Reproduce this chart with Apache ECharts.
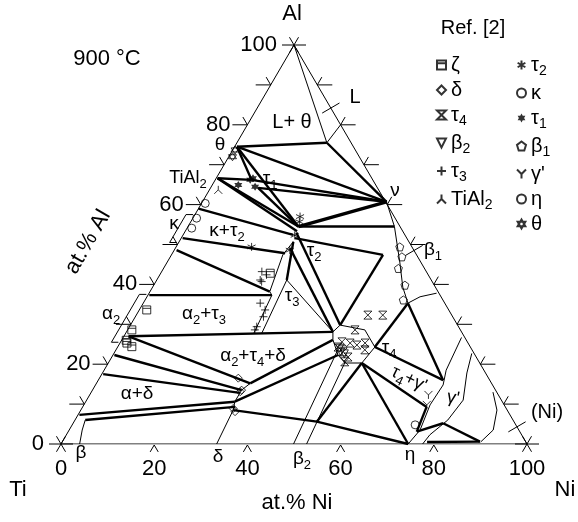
<!DOCTYPE html>
<html>
<head>
<meta charset="utf-8">
<script src="https://cdn.jsdelivr.net/npm/echarts@6/dist/echarts.min.js"></script>
<style>
  html, body { margin: 0; padding: 0; background: #fff; }
  #chart { width: 578px; height: 522px; }
</style>
</head>
<body>
<div id="chart"></div>
<script>
(function() {
  var FONT = '"Liberation Sans", Arial, sans-serif';
  var ink = '#000';

  // --- axis ticks (at.%) ---
  var leftTicks = [10, 20, 30, 40, 50, 60, 70, 80, 90];     // Al on Ti-Al edge
  var rightTicks = [10, 20, 30, 40, 50, 60, 70, 80, 90];    // Al on Al-Ni edge
  var bottomTicks = [20, 40, 60, 80];                        // Ni on Ti-Ni edge
  var alLabels = [0, 20, 40, 60, 80, 100];
  var niLabels = [0, 20, 40, 60, 80, 100];
  var leaderAl = [84.2, 48.5, 4.3];                          // label leaders on Al-Ni edge
  var bracketAl = [[25.5, 37.5], [50.5, 57.5]];              // alpha2 / kappa brackets on Ti-Al edge

  // --- compositions [at.% Ni, at.% Al] ---
  var corners = [[0, 0], [100, 0], [0, 100]];
  var edges = [[[0, 0], [100, 0], [0, 100], [0, 0]]];

  var heavyTies = [
    [[0.5, 74.5], [19.3, 75.5]],
    [[0.5, 74.5], [39.5, 60.7]],
    [[19.3, 75.5], [39.5, 60.7]],
    [[0.5, 74.5], [7.8, 66.2]],
    [[0.5, 74.5], [23.7, 54.5]],
    [[0.3, 66.6], [7.8, 66.2]],
    [[0.3, 66.6], [23.7, 54.5]],
    [[0.3, 66.6], [24, 53.3]],
    [[10.2, 64.2], [23.7, 54.5]],
    [[10.2, 64.2], [39.5, 60.7]],
    [[7.8, 66.2], [39.5, 60.7]],
    [[23.7, 54.5], [44.3, 54.5]],
    [[24.4, 51.6], [45.4, 47.4]],
    [[0, 59], [23.6, 52.4]],
    [[0.3, 51.6], [24.2, 47.8]],
    [[0.5, 48.6], [25.7, 38.2]],
    [[0.3, 37.3], [26.6, 37.3]],
    [[1, 27], [44.3, 28.1]],
    [[1, 27], [33, 15.2]],
    [[0.3, 22.3], [32, 13.5]],
    [[0.3, 17.5], [32, 12.8]],
    [[0.3, 7.3], [32, 10.6]],
    [[2.2, 6], [32.7, 9.3]],
    [[33, 15.2], [45.3, 26.1]],
    [[32, 10.6], [48.3, 22.3]],
    [[32.7, 8.5], [52.1, 5.6], [74.5, 0]],
    [[52.1, 5.6], [54.4, 20.3]],
    [[24.6, 49.1], [44.3, 28.1]],
    [[24, 53], [45, 29.8]],
    [[24.5, 50.7], [27.9, 41.1]],
    [[45.4, 47.4], [45, 29.8]],
    [[56.8, 35.3], [55.2, 24.3]],
    [[55.2, 24.3], [74, 16]],
    [[56.8, 35.3], [74, 16]],
    [[54.4, 20.3], [73.8, 9.3]],
    [[54.4, 20.3], [74.5, 0]],
    [[73.8, 9.3], [74.8, 3.1]],
    [[74.8, 3.1], [79.4, 5.2]],
    [[79.4, 5.2], [89.6, 0.6]],
    [[78.3, 0.5], [89.6, 0.6]]
  ];
  var thickTies = [
    [[23.7, 54.5], [39.5, 60.7]]
  ];

  var boundaries = [
    [[0, 100], [19.3, 75.5], [20, 80]],
    [[39.5, 60.7], [44.3, 54.5], [49.9, 45.6], [53.7, 39.3], [56.8, 35.3]],
    [[56.8, 35.3], [58.6, 36.9], [61.7, 37.8]],
    [[72.6, 26.7], [73.4, 18.5], [74.6, 14.8], [74.3, 9.8], [75.3, 3.5], [74.5, 0]],
    [[76.8, 22.7], [78.2, 17.8], [80.8, 11], [80, 6], [78, 2.3], [77.6, 0]],
    [[86.2, 13], [89.3, 8.5], [91, 3.5], [89.8, 0.5]],
    [[24.5, 50.7], [23.9, 47.4], [25.7, 38.2], [26.6, 37.3], [27.5, 27.8]],
    [[27.9, 41.1], [29.2, 27.8]],
    [[27.9, 41.1], [44.3, 28.1]],
    [[44.3, 28.1], [45, 29.8], [50.9, 28.6], [55.2, 24.3], [54.4, 20.3], [50.8, 20.3],
     [48.3, 22.3], [45.3, 26.1], [44.3, 28.1]],
    [[33.4, 0], [32.7, 8.5], [32, 10.6], [32, 13.5], [33, 15.2]],
    [[49.9, 0], [47.6, 23.6]],
    [[52.7, 0], [50.7, 20.6]],
    [[2.2, 6], [2.8, 3.5], [4, 0]]
  ];

  // --- Ref. [2] data points ---
  var zetaPts = [[1.6, 33.6], [0.9, 28.6], [1, 26], [3, 24.4], [1.5, 25.3], [23.5, 42.8]];
  var deltaPts = [[29.8, 16.5], [32, 13.5], [31.9, 13.1], [32.5, 8.9], [33.3, 8.1]];
  var tau4Pts = [[49.7, 32.3], [52.9, 32.3], [48.8, 28.6], [47.5, 25.6], [49.4, 25.3], [51.1, 24.8],
                 [52.6, 25.3], [47.3, 24.3], [49, 23.1], [50.7, 21.8], [50.6, 20.6], [53.4, 23.6]];
  var beta2Pts = [[47.8, 24], [48.5, 23], [49.5, 22.6]];
  var tau3Pts = [[21.5, 43.2], [22.2, 41.1], [22.7, 40.7], [22.9, 42.4], [25.1, 35.3], [27, 33.6],
                 [27.5, 31.9], [27.3, 29.4], [27.3, 28.6]];
  var tial2Pts = [[1.9, 63.7]];
  var tau2Pts = [[22.8, 57], [23.3, 55.7], [16.2, 49.4], [24.8, 48.6], [24, 52.3]];
  var kappaPts = [[0.8, 60.3], [0.8, 56.6], [1, 54.1]];
  var tau1Pts = [[7.5, 66.2], [9.4, 64.5], [5.6, 64.9], [7.9, 66.6]];
  var beta1Pts = [[48, 49.4], [49.7, 46.9], [50.4, 44], [53.9, 39.8], [55.4, 36.1]];
  var gammaPts = [[72.7, 12.3], [73.6, 9.8]];
  var etaPts = [[73.6, 4.8]];
  var thetaPts = [[0.5, 73.7], [0.8, 72]];

  // ternary -> cartesian (x = Ni + Al/2, y = Al)
  function tern(p) { return [p[0] + p[1] / 2, p[1]]; }

  function sub(str) {
    // "τ_4+γ'" -> rich text with subscripts
    return str.split(/(_\d)/).map(function(t) {
      if (!t) return '';
      if (t.charAt(0) === '_') return '{s|' + t.slice(1) + '}';
      return '{n|' + t + '}';
    }).join('');
  }
  function richFor(size) {
    return {
      n: { fontSize: size, fontFamily: FONT, lineHeight: 22 },
      s: { fontSize: Math.round(size * 0.7), fontFamily: FONT, verticalAlign: 'bottom', lineHeight: 26 }
    };
  }

  var symbols = {
    zeta: 'path://M0,0L10,0L10,10L0,10Z M0,3L10,3',
    delta: 'path://M5,0L10,5L5,10L0,5Z',
    tau4: 'path://M0,0L10,0L0,10L10,10Z',
    beta2: 'path://M0,0L10,0L5,10Z',
    tau3: 'path://M5,0L5,10M0,5L10,5',
    tial2: 'path://M5,0L5,5L0,10M5,5L10,10',
    tau2: 'path://M5,0L5,10M0.7,2.5L9.3,7.5M0.7,7.5L9.3,2.5',
    tau1: 'path://M5,0L6.4,2.5L9.3,2.5L7.9,5L9.3,7.5L6.4,7.5L5,10L3.6,7.5L0.7,7.5L2.1,5L0.7,2.5L3.6,2.5Z',
    beta1: 'path://M5,0L10,3.8L8.1,10L1.9,10L0,3.8Z',
    gamma: 'path://M0,0L5,5L10,0M5,5L5,10',
    theta: 'path://M5,0L9.3,7.5L0.7,7.5Z M5,10L0.7,2.5L9.3,2.5Z'
  };

  function pointSeries(name, pts, symbol, filled) {
    return {
      name: name,
      type: 'scatter',
      data: pts.map(tern),
      symbol: symbol,
      symbolSize: 8,
      silent: true,
      z: 5,
      itemStyle: filled ? { color: ink } : { color: 'rgba(0,0,0,0)', borderColor: ink, borderWidth: 1 }
    };
  }

  function lineSeries(list, width, z) {
    return {
      type: 'lines',
      coordinateSystem: 'cartesian2d',
      polyline: true,
      silent: true,
      z: z,
      lineStyle: { color: ink, width: width, opacity: 1 },
      data: list.map(function(pts) { return { coords: pts.map(tern) }; })
    };
  }

  // axis decorations drawn through the grid's coordinate system
  var tickData = [];
  leftTicks.forEach(function(v) { tickData.push([0, v, 0]); });
  rightTicks.forEach(function(v) { tickData.push([1, v, 0]); });
  bottomTicks.forEach(function(v) { tickData.push([2, v, 0]); });
  corners.forEach(function(c, i) { tickData.push([3, i, 0]); });
  alLabels.forEach(function(v) { tickData.push([4, v, 0]); });
  niLabels.forEach(function(v) { tickData.push([5, v, 0]); });
  leaderAl.forEach(function(v) { tickData.push([6, v, 0]); });
  bracketAl.forEach(function(r) { tickData.push([7, r[0], r[1]]); });

  var cx = 0.504, cy = 0.864;
  function seg(x1, y1, x2, y2) {
    return { type: 'line', shape: { x1: x1, y1: y1, x2: x2, y2: y2 }, style: { stroke: ink, lineWidth: 1 } };
  }
  function renderTick(params, api) {
    var kind = api.value(0), v = api.value(1), p, q, ch = [];
    if (kind === 0) {
      p = api.coord(tern([0, v]));
      ch.push(seg(p[0] - 15, p[1], p[0], p[1]));
      ch.push(seg(p[0] - cx * 9, p[1] - cy * 9, p[0], p[1]));
    } else if (kind === 1) {
      p = api.coord(tern([100 - v, v]));
      ch.push(seg(p[0], p[1], p[0] + 15, p[1]));
      ch.push(seg(p[0], p[1], p[0] + cx * 9, p[1] - cy * 9));
    } else if (kind === 2) {
      p = api.coord(tern([v, 0]));
      ch.push(seg(p[0] - cx * 8, p[1] + 1 + cy * 8, p[0], p[1] + 1));
      ch.push(seg(p[0], p[1] + 1, p[0] + cx * 8, p[1] + 1 + cy * 8));
    } else if (kind === 3) {
      p = api.coord(tern(corners[v]));
      ch.push(seg(p[0] - cx * 9, p[1] + cy * 9, p[0] + cx * 9, p[1] - cy * 9));
      ch.push(seg(p[0] - cx * 9, p[1] - cy * 9, p[0] + cx * 9, p[1] + cy * 9));
      ch.push(seg(p[0] - 12, p[1], p[0] + 12, p[1]));
    } else if (kind === 4) {
      p = api.coord(tern([0, v]));
      ch.push({ type: 'text', style: { text: String(v), x: p[0] - 17, y: p[1], fill: ink,
        font: '22px ' + FONT, align: 'right', verticalAlign: 'middle' } });
    } else if (kind === 5) {
      p = api.coord(tern([v, 0]));
      ch.push({ type: 'text', style: { text: String(v), x: p[0], y: p[1] + 25, fill: ink,
        font: '22px ' + FONT, align: 'center', verticalAlign: 'middle' } });
    } else if (kind === 6) {
      p = api.coord(tern([100 - v, v]));
      ch.push(seg(p[0] - cy * 10, p[1] + cx * 10, p[0] + cy * 10, p[1] - cx * 10));
    } else if (kind === 7) {
      p = api.coord(tern([0, v]));
      q = api.coord(tern([0, api.value(2)]));
      ch.push(seg(p[0] - 9, p[1], q[0] - 9, q[1]));
      ch.push(seg(p[0] - 9, p[1], p[0] - 2, p[1]));
      ch.push(seg(q[0] - 9, q[1], q[0] - 2, q[1]));
    }
    return { type: 'group', children: ch };
  }

  // phase labels (pixel placement)
  var labels = [
    ['Al', 292, 14, 0, 22], ['Ti', 18, 490, 0, 22], ['Ni', 565, 490, 0, 22],
    ['900 °C', 107, 59, 0, 22], ['Ref. [2]', 473, 28, 0, 20], ['at.% Ni', 297, 503, 0, 22],
    ['at.% Al', 88, 242, Math.PI / 3, 22],
    ['L+ θ', 292, 122, 0, 20], ['θ', 220, 145, 0, 19], ['TiAl_2', 188, 178, 0, 18],
    ['τ_1', 270, 179, 0, 19], ['ν', 395, 191, 0, 19], ['L', 355, 97, 0, 20],
    ['β_1', 433, 250, 0, 19], ['κ', 174, 224, 0, 19], ['κ+τ_2', 227, 231, 0, 19],
    ['τ_2', 314, 251, 0, 19], ['τ_3', 292, 296, 0, 19], ['α_2', 111, 314, 0, 19],
    ['α_2+τ_3', 204, 314, 0, 19], ['α_2+τ_4+δ', 253, 356, 0, 19], ['α+δ', 137, 394, 0, 19],
    ['δ', 218, 457, 0, 19], ['β', 81, 453, 0, 19], ['β_2', 302, 459, 0, 19],
    ['η', 410, 455, 0, 19], ['τ_4', 389, 348, 0, 19], ["τ_4+γ'", 409, 379, -0.45, 18],
    ["γ'", 453, 398, -0.2, 18], ['(Ni)', 547, 412, 0, 20]
  ];

  var chart = echarts.init(document.getElementById('chart'), null, { renderer: 'canvas' });

  var legendNames1 = ['ζ', 'δ', 'τ_4', 'β_2', 'τ_3', 'TiAl_2'];
  var legendNames2 = ['τ_2', 'κ', 'τ_1', 'β_1', "γ'", 'η', 'θ'];
  function legendCfg(left, names) {
    return {
      orient: 'vertical', left: left, top: 50, itemWidth: 9, itemHeight: 9, itemGap: 5,
      selectedMode: false, data: names,
      formatter: function(name) { return sub(name); },
      textStyle: { color: ink, fontFamily: FONT, fontSize: 20, rich: richFor(20) }
    };
  }

  chart.setOption({
    animation: false,
    backgroundColor: '#fff',
    grid: { left: 61, top: 45, width: 466, height: 399 },
    xAxis: { type: 'value', min: 0, max: 100, show: false },
    yAxis: { type: 'value', min: 0, max: 100, show: false },
    legend: [legendCfg(431, legendNames1), legendCfg(511, legendNames2)],
    graphic: labels.map(function(l) {
      return {
        type: 'text', x: l[1], y: l[2], rotation: l[3], silent: true,
        style: { text: sub(l[0]), fill: ink, align: 'center', verticalAlign: 'middle',
          font: l[4] + 'px ' + FONT, rich: richFor(l[4]) }
      };
    }),
    series: [
      lineSeries(edges, 1, 2),
      lineSeries(boundaries, 1, 2),
      lineSeries(heavyTies, 2.4, 3),
      lineSeries(thickTies, 3.4, 3),
      {
        type: 'custom', renderItem: renderTick, data: tickData, silent: true, z: 4,
        encode: { x: -1, y: -1 }
      },
      pointSeries('ζ', zetaPts, symbols.zeta),
      pointSeries('δ', deltaPts, symbols.delta),
      pointSeries('τ_4', tau4Pts, symbols.tau4),
      pointSeries('β_2', beta2Pts, symbols.beta2),
      pointSeries('τ_3', tau3Pts, symbols.tau3),
      pointSeries('TiAl_2', tial2Pts, symbols.tial2),
      pointSeries('τ_2', tau2Pts, symbols.tau2),
      pointSeries('κ', kappaPts, 'circle'),
      pointSeries('τ_1', tau1Pts, symbols.tau1, true),
      pointSeries('β_1', beta1Pts, symbols.beta1),
      pointSeries("γ'", gammaPts, symbols.gamma),
      pointSeries('η', etaPts, 'circle'),
      pointSeries('θ', thetaPts, symbols.theta)
    ]
  });
})();
</script>
</body>
</html>
